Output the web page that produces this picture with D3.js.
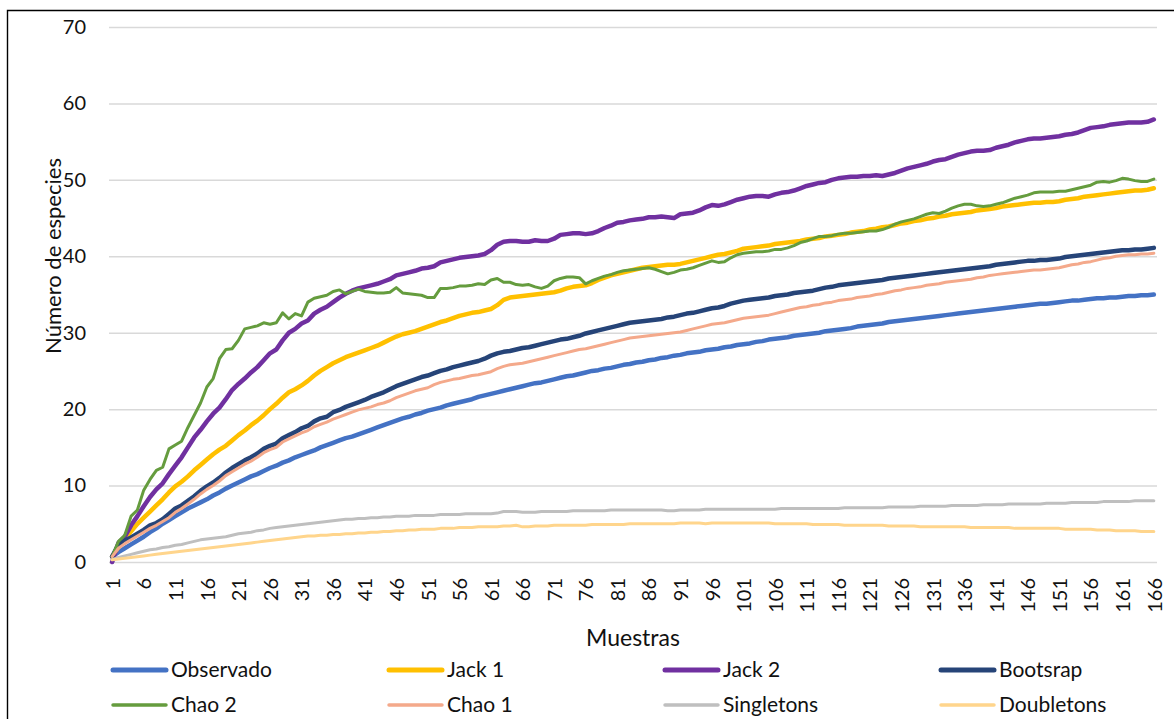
<!DOCTYPE html>
<html>
<head>
<meta charset="utf-8">
<script src="https://cdn.jsdelivr.net/npm/d3@7/dist/d3.min.js"></script>
<style>
  html, body { margin: 0; padding: 0; background: #fff; }
  svg { display: block; font-family: "Lato", "Open Sans", sans-serif; }
</style>
</head>
<body>
<svg id="chart" width="1174" height="719"></svg>
<script>
// Sample numbers along the x axis (one category per sample)
const samples = d3.range(1, 167);
const xTickLabels = [1, 6, 11, 16, 21, 26, 31, 36, 41, 46, 51, 56, 61, 66, 71, 76, 81, 86, 91, 96,
  101, 106, 111, 116, 121, 126, 131, 136, 141, 146, 151, 156, 161, 166];
const yTickLabels = [0, 10, 20, 30, 40, 50, 60, 70];

// Species accumulation curves and estimators, one value per sample
const observado = [
  0.7, 1.3, 1.8, 2.3, 2.8, 3.3, 3.9, 4.4, 5.0, 5.5,
  6.0, 6.5, 7.0, 7.4, 7.8, 8.2, 8.7, 9.1, 9.6, 10.0,
  10.4, 10.8, 11.2, 11.5, 11.9, 12.3, 12.6, 13.0, 13.3, 13.7,
  14.0, 14.3, 14.6, 15.0, 15.3, 15.6, 15.9, 16.2, 16.4, 16.7,
  17.0, 17.3, 17.6, 17.9, 18.2, 18.5, 18.8, 19.0, 19.3, 19.5,
  19.8, 20.0, 20.2, 20.5, 20.7, 20.9, 21.1, 21.3, 21.6, 21.8,
  22.0, 22.2, 22.4, 22.6, 22.8, 23.0, 23.2, 23.4, 23.5, 23.7,
  23.9, 24.1, 24.3, 24.4, 24.6, 24.8, 25.0, 25.1, 25.3, 25.4,
  25.6, 25.8, 25.9, 26.1, 26.2, 26.4, 26.5, 26.7, 26.8, 27.0,
  27.1, 27.3, 27.4, 27.5, 27.7, 27.8, 27.9, 28.1, 28.2, 28.4,
  28.5, 28.6, 28.8, 28.9, 29.1, 29.2, 29.3, 29.4, 29.6, 29.7,
  29.8, 29.9, 30.0, 30.2, 30.3, 30.4, 30.5, 30.6, 30.8, 30.9,
  31.0, 31.1, 31.2, 31.4, 31.5, 31.6, 31.7, 31.8, 31.9, 32.0,
  32.1, 32.2, 32.3, 32.4, 32.5, 32.6, 32.7, 32.8, 32.9, 33.0,
  33.1, 33.2, 33.3, 33.4, 33.5, 33.6, 33.7, 33.8, 33.8, 33.9,
  34.0, 34.1, 34.2, 34.2, 34.3, 34.4, 34.5, 34.5, 34.6, 34.6,
  34.7, 34.8, 34.8, 34.9, 34.9, 35.0
];
const jack1 = [
  0.7, 2.0, 3.0, 4.0, 5.0, 5.8, 6.6, 7.4, 8.2, 9.1,
  9.9, 10.5, 11.2, 12.0, 12.7, 13.4, 14.1, 14.7, 15.2, 15.9,
  16.6, 17.2, 17.9, 18.5, 19.2, 20.0, 20.7, 21.5, 22.2, 22.6,
  23.1, 23.7, 24.4, 25.0, 25.5, 26.0, 26.4, 26.8, 27.1, 27.4,
  27.7, 28.0, 28.3, 28.7, 29.1, 29.5, 29.8, 30.0, 30.2, 30.5,
  30.8, 31.1, 31.4, 31.6, 31.9, 32.2, 32.4, 32.6, 32.7, 32.9,
  33.1, 33.6, 34.3, 34.6, 34.7, 34.8, 34.9, 35.0, 35.1, 35.2,
  35.3, 35.5, 35.8, 36.0, 36.1, 36.2, 36.5, 36.9, 37.2, 37.5,
  37.7, 37.9, 38.1, 38.3, 38.5, 38.6, 38.7, 38.8, 38.9, 38.9,
  39.0, 39.2, 39.4, 39.6, 39.8, 40.0, 40.2, 40.3, 40.5, 40.7,
  41.0, 41.1, 41.2, 41.3, 41.4, 41.6, 41.7, 41.8, 41.9, 42.0,
  42.2, 42.3, 42.4, 42.6, 42.7, 42.8, 42.9, 43.1, 43.2, 43.3,
  43.5, 43.6, 43.8, 43.9, 44.1, 44.3, 44.4, 44.6, 44.7, 44.9,
  45.0, 45.2, 45.3, 45.5, 45.6, 45.7, 45.8, 46.0, 46.1, 46.2,
  46.3, 46.5, 46.6, 46.7, 46.8, 46.9, 47.0, 47.0, 47.1, 47.1,
  47.2, 47.4, 47.5, 47.6, 47.8, 47.9, 48.0, 48.1, 48.2, 48.3,
  48.4, 48.5, 48.6, 48.6, 48.7, 48.9
];
const jack2 = [
  0.0, 2.5, 3.3, 4.8, 6.0, 7.3, 8.5, 9.5, 10.3, 11.5,
  12.6, 13.7, 15.0, 16.3, 17.3, 18.4, 19.4, 20.2, 21.3, 22.5,
  23.3, 24.0, 24.8, 25.5, 26.4, 27.3, 27.8, 29.0, 30.0, 30.5,
  31.2, 31.6, 32.5, 33.0, 33.4, 34.0, 34.6, 35.1, 35.5, 35.8,
  36.0, 36.2, 36.4, 36.7, 37.0, 37.5, 37.7, 37.9, 38.1, 38.4,
  38.5, 38.7, 39.2, 39.4, 39.6, 39.8, 39.9, 40.0, 40.1, 40.3,
  40.8, 41.5, 41.9, 42.0, 42.0, 41.9, 41.9, 42.1, 42.0, 42.0,
  42.3, 42.8, 42.9, 43.0, 43.0, 42.9, 43.0, 43.3, 43.7, 44.0,
  44.4, 44.5, 44.7, 44.8, 44.9, 45.1, 45.1, 45.2, 45.1, 45.0,
  45.5, 45.6, 45.7, 46.0, 46.4, 46.7, 46.6, 46.8, 47.1, 47.4,
  47.6, 47.8, 47.9, 47.9, 47.8, 48.1, 48.3, 48.4, 48.6, 48.9,
  49.2, 49.4, 49.6, 49.7, 50.0, 50.2, 50.3, 50.4, 50.4, 50.5,
  50.5, 50.6, 50.5, 50.7, 50.9, 51.2, 51.5, 51.7, 51.9, 52.1,
  52.4, 52.6, 52.7, 53.0, 53.3, 53.5, 53.7, 53.8, 53.8, 53.9,
  54.2, 54.4, 54.6, 54.9, 55.1, 55.3, 55.4, 55.4, 55.5, 55.6,
  55.7, 55.9, 56.0, 56.2, 56.5, 56.8, 56.9, 57.0, 57.2, 57.3,
  57.4, 57.5, 57.5, 57.5, 57.6, 57.9
];
const bootsrap = [
  0.7, 2.3, 2.8, 3.2, 3.7, 4.2, 4.8, 5.1, 5.6, 6.3,
  7.0, 7.4, 8.0, 8.6, 9.3, 9.9, 10.4, 11.0, 11.7, 12.3,
  12.8, 13.3, 13.7, 14.2, 14.8, 15.2, 15.5, 16.2, 16.6, 17.0,
  17.5, 17.8, 18.4, 18.8, 19.0, 19.6, 19.9, 20.3, 20.6, 20.9,
  21.2, 21.6, 21.9, 22.2, 22.6, 23.0, 23.3, 23.6, 23.9, 24.2,
  24.4, 24.7, 25.0, 25.2, 25.5, 25.7, 25.9, 26.1, 26.3, 26.6,
  27.0, 27.3, 27.5, 27.6, 27.8, 28.0, 28.1, 28.3, 28.5, 28.7,
  28.9, 29.1, 29.2, 29.4, 29.6, 29.9, 30.1, 30.3, 30.5, 30.7,
  30.9, 31.1, 31.3, 31.4, 31.5, 31.6, 31.7, 31.8, 32.0, 32.1,
  32.3, 32.5, 32.6, 32.8, 33.0, 33.2, 33.3, 33.5, 33.8, 34.0,
  34.2, 34.3, 34.4, 34.5, 34.6, 34.8, 34.9, 35.0, 35.2, 35.3,
  35.4, 35.5, 35.7, 35.9, 36.0, 36.2, 36.3, 36.4, 36.5, 36.6,
  36.7, 36.8, 36.9, 37.1, 37.2, 37.3, 37.4, 37.5, 37.6, 37.7,
  37.8, 37.9, 38.0, 38.1, 38.2, 38.3, 38.4, 38.5, 38.6, 38.7,
  38.9, 39.0, 39.1, 39.2, 39.3, 39.4, 39.4, 39.5, 39.5, 39.6,
  39.7, 39.9, 40.0, 40.1, 40.2, 40.3, 40.4, 40.5, 40.6, 40.7,
  40.8, 40.8, 40.9, 40.9, 41.0, 41.1
];
const chao2 = [
  0.7, 2.7, 3.5, 6.0, 6.8, 9.4, 10.8, 12.0, 12.4, 14.8,
  15.3, 15.8, 17.6, 19.2, 20.8, 22.9, 24.0, 26.6, 27.8, 27.9,
  29.0, 30.5, 30.7, 30.9, 31.3, 31.1, 31.3, 32.6, 31.8, 32.5,
  32.2, 34.0, 34.5, 34.7, 34.9, 35.4, 35.6, 35.1, 35.4, 35.7,
  35.4, 35.3, 35.2, 35.2, 35.3, 35.9, 35.2, 35.1, 35.0, 34.9,
  34.6, 34.6, 35.8, 35.8, 35.9, 36.1, 36.1, 36.2, 36.4, 36.3,
  36.9, 37.1, 36.6, 36.6, 36.3, 36.2, 36.3, 36.0, 35.8, 36.1,
  36.8, 37.1, 37.3, 37.3, 37.2, 36.4, 36.8, 37.1, 37.4, 37.6,
  37.9, 38.1, 38.2, 38.3, 38.4, 38.5, 38.3, 38.0, 37.7, 37.9,
  38.2, 38.3, 38.5, 38.8, 39.1, 39.4, 39.2, 39.3, 39.8, 40.2,
  40.4, 40.5, 40.6, 40.6, 40.7, 40.9, 40.9, 41.1, 41.4, 41.8,
  42.0, 42.3, 42.6, 42.6, 42.7, 42.9, 43.0, 43.0, 43.1, 43.2,
  43.3, 43.3, 43.5, 43.8, 44.2, 44.5, 44.7, 44.9, 45.2, 45.5,
  45.7, 45.6, 45.9, 46.3, 46.6, 46.8, 46.8, 46.6, 46.5, 46.6,
  46.8, 47.0, 47.3, 47.6, 47.8, 48.0, 48.3, 48.4, 48.4, 48.4,
  48.5, 48.5, 48.7, 48.9, 49.1, 49.3, 49.7, 49.8, 49.7, 49.9,
  50.2, 50.1, 49.9, 49.8, 49.8, 50.1
];
const chao1 = [
  0.7, 1.8, 2.4, 2.9, 3.4, 3.9, 4.4, 4.8, 5.3, 5.8,
  6.5, 7.0, 7.6, 8.2, 8.9, 9.5, 10.0, 10.6, 11.3, 11.8,
  12.3, 12.8, 13.2, 13.7, 14.3, 14.7, 15.0, 15.7, 16.1, 16.5,
  16.9, 17.2, 17.7, 18.0, 18.3, 18.7, 19.0, 19.3, 19.6, 19.9,
  20.1, 20.3, 20.6, 20.8, 21.1, 21.5, 21.8, 22.1, 22.4, 22.6,
  22.8, 23.2, 23.5, 23.7, 23.9, 24.0, 24.2, 24.4, 24.5, 24.7,
  24.9, 25.3, 25.6, 25.8, 25.9, 26.0, 26.2, 26.4, 26.6, 26.8,
  27.0, 27.2, 27.4, 27.6, 27.8, 27.9, 28.1, 28.3, 28.5, 28.7,
  28.9, 29.1, 29.3, 29.4, 29.5, 29.6, 29.7, 29.8, 29.9, 30.0,
  30.1, 30.3, 30.5, 30.7, 30.9, 31.1, 31.2, 31.3, 31.5, 31.7,
  31.9, 32.0, 32.1, 32.2, 32.3, 32.5, 32.7, 32.9, 33.1, 33.3,
  33.4, 33.6, 33.7, 33.9, 34.0, 34.2, 34.3, 34.4, 34.6, 34.7,
  34.8, 35.0, 35.1, 35.3, 35.5, 35.6, 35.8, 35.9, 36.0, 36.2,
  36.3, 36.4, 36.6, 36.7, 36.8, 36.9, 37.0, 37.2, 37.3, 37.5,
  37.6, 37.7, 37.8, 37.9, 38.0, 38.1, 38.2, 38.2, 38.3, 38.4,
  38.5, 38.7, 38.9, 39.0, 39.2, 39.3, 39.5, 39.7, 39.8, 40.0,
  40.1, 40.2, 40.2, 40.3, 40.3, 40.4
];
const singletons = [
  0.3, 0.6, 0.8, 1.0, 1.2, 1.4, 1.6, 1.7, 1.9, 2.0,
  2.2, 2.3, 2.5, 2.7, 2.9, 3.0, 3.1, 3.2, 3.3, 3.5,
  3.7, 3.8, 3.9, 4.1, 4.2, 4.4, 4.5, 4.6, 4.7, 4.8,
  4.9, 5.0, 5.1, 5.2, 5.3, 5.4, 5.5, 5.6, 5.6, 5.7,
  5.7, 5.8, 5.8, 5.9, 5.9, 6.0, 6.0, 6.0, 6.1, 6.1,
  6.1, 6.1, 6.2, 6.2, 6.2, 6.2, 6.3, 6.3, 6.3, 6.3,
  6.3, 6.4, 6.6, 6.6, 6.6, 6.5, 6.5, 6.5, 6.6, 6.6,
  6.6, 6.6, 6.6, 6.7, 6.7, 6.7, 6.7, 6.7, 6.7, 6.8,
  6.8, 6.8, 6.8, 6.8, 6.8, 6.8, 6.8, 6.8, 6.7, 6.7,
  6.8, 6.8, 6.8, 6.8, 6.9, 6.9, 6.9, 6.9, 6.9, 6.9,
  6.9, 6.9, 6.9, 6.9, 6.9, 6.9, 7.0, 7.0, 7.0, 7.0,
  7.0, 7.0, 7.0, 7.0, 7.0, 7.0, 7.1, 7.1, 7.1, 7.1,
  7.1, 7.1, 7.1, 7.2, 7.2, 7.2, 7.2, 7.2, 7.3, 7.3,
  7.3, 7.3, 7.3, 7.4, 7.4, 7.4, 7.4, 7.4, 7.5, 7.5,
  7.5, 7.5, 7.6, 7.6, 7.6, 7.6, 7.6, 7.6, 7.7, 7.7,
  7.7, 7.7, 7.8, 7.8, 7.8, 7.8, 7.8, 7.9, 7.9, 7.9,
  7.9, 7.9, 8.0, 8.0, 8.0, 8.0
];
const doubletons = [
  0.3, 0.4, 0.5, 0.6, 0.7, 0.8, 0.9, 1.0, 1.1, 1.2,
  1.3, 1.4, 1.5, 1.6, 1.7, 1.8, 1.9, 2.0, 2.1, 2.2,
  2.3, 2.4, 2.5, 2.6, 2.7, 2.8, 2.9, 3.0, 3.1, 3.2,
  3.3, 3.4, 3.4, 3.5, 3.5, 3.6, 3.6, 3.7, 3.7, 3.8,
  3.8, 3.9, 3.9, 4.0, 4.0, 4.1, 4.1, 4.2, 4.2, 4.3,
  4.3, 4.3, 4.4, 4.4, 4.4, 4.5, 4.5, 4.5, 4.6, 4.6,
  4.6, 4.6, 4.7, 4.7, 4.8, 4.6, 4.6, 4.7, 4.7, 4.7,
  4.8, 4.8, 4.8, 4.8, 4.8, 4.8, 4.9, 4.9, 4.9, 4.9,
  4.9, 4.9, 5.0, 5.0, 5.0, 5.0, 5.0, 5.0, 5.0, 5.0,
  5.1, 5.1, 5.1, 5.1, 5.0, 5.1, 5.1, 5.1, 5.1, 5.1,
  5.1, 5.1, 5.1, 5.1, 5.1, 5.0, 5.0, 5.0, 5.0, 5.0,
  5.0, 4.9, 4.9, 4.9, 4.9, 4.9, 4.8, 4.8, 4.8, 4.8,
  4.8, 4.8, 4.8, 4.7, 4.7, 4.7, 4.7, 4.7, 4.6, 4.6,
  4.6, 4.6, 4.6, 4.6, 4.6, 4.6, 4.5, 4.5, 4.5, 4.5,
  4.5, 4.5, 4.5, 4.4, 4.4, 4.4, 4.4, 4.4, 4.4, 4.4,
  4.4, 4.3, 4.3, 4.3, 4.3, 4.3, 4.2, 4.2, 4.2, 4.1,
  4.1, 4.1, 4.1, 4.0, 4.0, 4.0
];

const seriesNames = ["Observado", "Jack 1", "Jack 2", "Bootsrap", "Chao 2", "Chao 1", "Singletons", "Doubletons"];
const seriesValues = [observado, jack1, jack2, bootsrap, chao2, chao1, singletons, doubletons];
const seriesColors = ["#4472C4", "#FFC000", "#7030A0", "#264478", "#659C3E", "#F4A98B", "#BFBFBF", "#FFD58C"];
const seriesWidths = [4.5, 4.5, 4.5, 4.5, 3, 3, 3, 3];

const svg = d3.select("#chart");
const plot = { left: 109, right: 1157, top: 27, bottom: 562 };

// Outer chart frame (open to the right and bottom edges)
svg.append("path")
  .attr("d", `M7.5,719 V10.5 H1174`)
  .attr("fill", "none")
  .attr("stroke", "#000")
  .attr("stroke-width", 1.4);

const x = d3.scalePoint().domain(samples).range([plot.left, plot.right]).padding(0.5);
const y = d3.scaleLinear().domain([0, 70]).range([plot.bottom, plot.top]);

// Horizontal gridlines and value labels
const yAxis = svg.append("g")
  .attr("transform", `translate(${plot.left},0)`)
  .call(d3.axisLeft(y).tickValues(yTickLabels).tickSize(-(plot.right - plot.left)).tickPadding(23));
yAxis.select(".domain").remove();
yAxis.selectAll(".tick line").attr("stroke", "#D9D9D9").attr("stroke-width", 1.5);
yAxis.selectAll(".tick text")
  .attr("fill", "#111")
  .style("font-size", "20px")
  .style("font-family", "Lato, 'Open Sans', sans-serif");

// Sample axis with vertical labels every fifth sample
const xAxis = svg.append("g")
  .attr("transform", `translate(0,${plot.bottom})`)
  .call(d3.axisBottom(x).tickValues(xTickLabels).tickSize(0));
xAxis.select(".domain").remove();
xAxis.selectAll(".tick text")
  .attr("transform", "rotate(-90)")
  .attr("text-anchor", "end")
  .attr("x", -16)
  .attr("y", 0)
  .attr("dy", "0.36em")
  .attr("fill", "#111")
  .style("font-size", "20px")
  .style("font-family", "Lato, 'Open Sans', sans-serif");

// Axis titles
svg.append("text")
  .attr("x", 633).attr("y", 646)
  .attr("text-anchor", "middle")
  .attr("fill", "#111")
  .style("font-size", "23px")
  .text("Muestras");

svg.append("text")
  .attr("transform", "translate(61,256) rotate(-90)")
  .attr("text-anchor", "middle")
  .attr("fill", "#111")
  .style("font-size", "22px")
  .text("Número de especies");

// Series lines
const line = d3.line()
  .x((d, i) => x(samples[i]))
  .y(d => y(d))
  .curve(d3.curveLinear);

svg.append("g").selectAll("path")
  .data(seriesValues)
  .join("path")
  .attr("d", line)
  .attr("fill", "none")
  .attr("stroke", (d, i) => seriesColors[i])
  .attr("stroke-width", (d, i) => seriesWidths[i])
  .attr("stroke-linejoin", "round")
  .attr("stroke-linecap", "round");

// Legend: four columns, two rows
const legend = svg.append("g");
const colX = [113, 389, 665, 941];
const rowY = [670, 705];
seriesNames.forEach((name, i) => {
  const cx = colX[i % 4];
  const cy = rowY[Math.floor(i / 4)];
  legend.append("line")
    .attr("x1", cx).attr("x2", cx + 53)
    .attr("y1", cy).attr("y2", cy)
    .attr("stroke", seriesColors[i])
    .attr("stroke-width", seriesWidths[i] + 0.5)
    .attr("stroke-linecap", "round");
  legend.append("text")
    .attr("x", cx + 58).attr("y", cy)
    .attr("dy", "0.35em")
    .attr("fill", "#111")
    .style("font-size", "21px")
    .text(name);
});
</script>
</body>
</html>
